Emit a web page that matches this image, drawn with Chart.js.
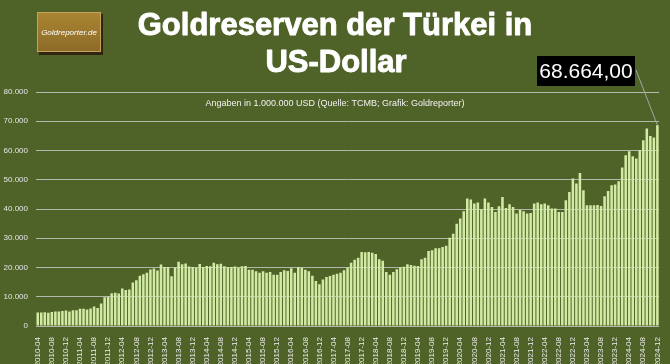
<!DOCTYPE html>
<html>
<head>
<meta charset="utf-8">
<script src="https://cdn.jsdelivr.net/npm/chart.js@4/dist/chart.umd.min.js"></script>
<style>
    html, body { margin: 0; padding: 0; background: #4f6228; }
    #goldChart { display: block; }
</style>
</head>
<body>
<canvas id="goldChart" width="670" height="364"></canvas>
<script>
// Goldreserven der Tuerkei, Mio. USD, monatlich (2010-04 bis 2024-12)
var gold2010 = [4580, 4600, 4680, 4550, 4750, 4950, 4950, 5150, 5300]
var gold2011 = [5000, 5350, 5350, 5900, 5900, 5650, 6000, 6700, 6150, 7700, 9800, 10000]
var gold2012 = [11200, 11400, 11100, 12800, 12300, 12500, 14900, 15600, 17200, 17700, 18200, 19300]
var gold2013 = [19700, 19000, 21000, 20200, 20200, 17000, 20000, 22000, 21100, 21400, 20300, 20200]
var gold2014 = [19900, 21200, 20200, 20500, 20400, 21600, 21100, 21300, 20400, 20100, 20200, 20300]
var gold2015 = [19900, 20400, 20500, 19270, 19270, 18700, 18240, 18700, 18240, 18470, 17560, 17560]
var gold2016 = [18470, 19040, 18820, 19730, 18240, 20180, 19950, 19270, 18700, 17220, 15400, 14260]
var gold2017 = [15860, 16770, 17110, 17560, 17900, 18240, 19040, 20000, 21650, 22670, 23360, 25300]
var gold2018 = [25200, 25300, 25050, 24600, 22780, 22330, 18460, 17550, 18460, 19360, 20040, 20270]
var gold2019 = [21070, 20850, 20620, 20500, 22780, 23360, 25640, 25870, 26550, 26550, 27010, 27470]
var gold2020 = [30200, 31570, 34990, 36720, 39210, 43560, 43210, 41850, 42190, 39900, 43560, 42190]
var gold2021 = [40690, 38980, 40920, 44100, 40350, 41620, 40690, 38430, 39780, 39210, 38430, 38630]
var gold2022 = [41850, 42190, 41620, 41850, 41270, 40140, 40140, 38980, 38980, 42980, 45810, 50400]
var gold2023 = [48690, 52310, 46400, 41270, 41270, 41270, 41400, 41000, 44350, 46160, 48110, 48400]
var gold2024 = [49470, 54150, 58360, 59730, 58020, 57230, 60070, 63490, 67490, 64960, 64410, 68664]

var startYear = 2010
var startMonth = 4
var endYear = 2024
var endMonth = 12

var yTicks = [0, 10000, 20000, 30000, 40000, 50000, 60000, 70000, 80000]
var lastLabel = '68.664,00'

var goldValues = [].concat(gold2010, gold2011, gold2012, gold2013, gold2014, gold2015, gold2016,
    gold2017, gold2018, gold2019, gold2020, gold2021, gold2022, gold2023, gold2024)

var monthLabels = []
for (var y = startYear; y <= endYear; y++) {
    var m0 = (y === startYear) ? startMonth : 1
    var m1 = (y === endYear) ? endMonth : 12
    for (var m = m0; m <= m1; m++) {
        monthLabels.push(y + '-' + (m < 10 ? '0' + m : m))
    }
}

function deNumber(v) {
    return String(v).replace(/\B(?=(\d{3})+(?!\d))/g, '.')
}

var FONT = '"Liberation Sans", Arial, sans-serif'

//-------------
//- DECORATION -
//-------------
var decoPlugin = {
    id: 'deco',
    beforeDraw: function (chart) {
        var ctx = chart.ctx
        ctx.save()
        ctx.fillStyle = '#4f6228'
        ctx.fillRect(0, 0, chart.width, chart.height)

        // Logo
        ctx.fillStyle = '#2f2510'
        ctx.fillRect(39, 14, 64, 41)
        var g = ctx.createLinearGradient(0, 12, 0, 52)
        g.addColorStop(0, '#a98533')
        g.addColorStop(1, '#8d6b27')
        ctx.fillStyle = g
        ctx.fillRect(37, 12, 64, 40)
        ctx.strokeStyle = '#c4a45a'
        ctx.lineWidth = 1
        ctx.strokeRect(37.5, 12.5, 63, 39)
        ctx.fillStyle = '#ffffff'
        ctx.font = 'italic 8px ' + FONT
        ctx.textAlign = 'center'
        ctx.textBaseline = 'middle'
        ctx.fillText('Goldreporter.de', 69, 33)

        // Title (a thin stroke makes it look heavier, like the original)
        ctx.font = 'bold 31px ' + FONT
        ctx.textBaseline = 'alphabetic'
        ctx.strokeStyle = '#ffffff'
        ctx.lineWidth = 0.9
        ctx.lineJoin = 'round'
        ctx.fillText('Goldreserven der Türkei in', 335, 35)
        ctx.strokeText('Goldreserven der Türkei in', 335, 35)
        ctx.fillText('US-Dollar', 336, 72)
        ctx.strokeText('US-Dollar', 336, 72)
        ctx.restore()
    },
    afterDraw: function (chart) {
        var ctx = chart.ctx
        var meta = chart.getDatasetMeta(0)
        var bar = meta.data[meta.data.length - 1]
        ctx.save()

        // Subtitle
        ctx.fillStyle = '#f2f2f2'
        ctx.font = '9px ' + FONT
        ctx.textAlign = 'center'
        ctx.textBaseline = 'middle'
        ctx.fillText('Angaben in 1.000.000 USD (Quelle: TCMB; Grafik: Goldreporter)', 335, 104)

        // Last value label
        ctx.strokeStyle = '#a6a6a6'
        ctx.lineWidth = 1
        ctx.beginPath()
        ctx.moveTo(636, 70)
        ctx.lineTo(bar.x, bar.y)
        ctx.stroke()
        ctx.fillStyle = '#000000'
        ctx.fillRect(537, 56, 98, 30)
        ctx.fillStyle = '#ffffff'
        ctx.font = '21px ' + FONT
        ctx.fillText(lastLabel, 586, 72)
        ctx.restore()
    }
}

var barCanvas = document.getElementById('goldChart').getContext('2d')
new Chart(barCanvas, {
    type: 'bar',
    data: {
        labels: monthLabels,
        datasets: [{
            data: goldValues,
            backgroundColor: '#d2eba4',
            borderWidth: 0,
            barPercentage: 0.72,
            categoryPercentage: 1.0
        }]
    },
    options: {
        responsive: false,
        devicePixelRatio: 1,
        animation: false,
        layout: { padding: { top: 92, right: 8, left: 0, bottom: 0 } },
        plugins: {
            legend: { display: false },
            tooltip: { enabled: false }
        },
        scales: {
            x: {
                grid: { display: false },
                border: { display: false },
                afterFit: function (scale) { scale.height = 38 },
                ticks: {
                    autoSkip: false,
                    minRotation: 90,
                    maxRotation: 90,
                    padding: 3,
                    color: '#ececec',
                    font: { family: FONT, size: 8 },
                    callback: function (val, i) {
                        return i % 4 === 0 ? monthLabels[i] : ''
                    }
                }
            },
            y: {
                min: yTicks[0],
                max: yTicks[yTicks.length - 1],
                afterFit: function (scale) { scale.width = 36 },
                afterBuildTicks: function (scale) {
                    scale.ticks = yTicks.map(function (v) { return { value: v } })
                },
                border: { display: false },
                grid: {
                    color: 'rgba(205,205,205,0.8)',
                    lineWidth: 1,
                    drawTicks: false
                },
                ticks: {
                    padding: 8,
                    color: '#e6e6e6',
                    font: { family: FONT, size: 8 },
                    callback: function (v) { return deNumber(v) }
                }
            }
        }
    },
    plugins: [decoPlugin]
})
</script>
</body>
</html>
